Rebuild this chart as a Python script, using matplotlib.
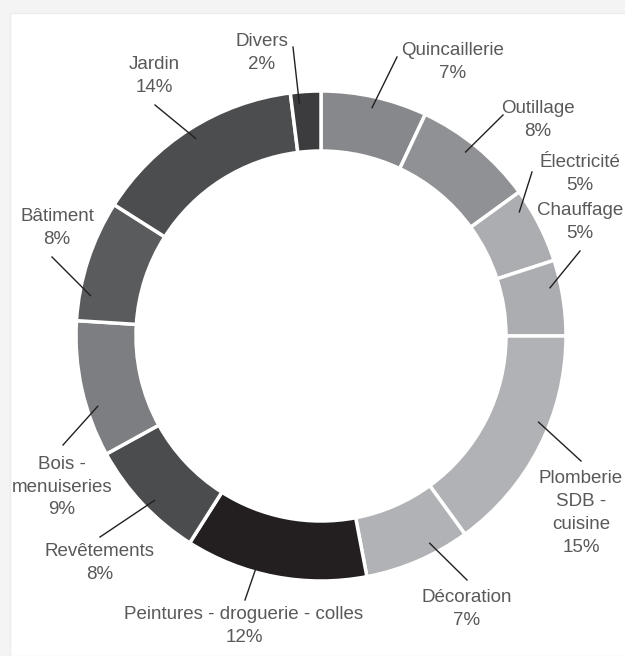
import numpy as np
import matplotlib
matplotlib.use("Agg")
import matplotlib.pyplot as plt
from matplotlib.patches import Rectangle

# Données (sens horaire depuis le haut)
categories = ["Quincaillerie", "Outillage", "Électricité", "Chauffage",
              "Plomberie\nSDB -\ncuisine", "Décoration",
              "Peintures - droguerie - colles", "Revêtements",
              "Bois -\nmenuiseries", "Bâtiment", "Jardin", "Divers"]
parts = [7, 8, 5, 5, 15, 7, 12, 8, 9, 8, 14, 2]
couleurs = ["#87888b", "#909194", "#acadb0", "#acadb0", "#b1b2b5", "#b1b2b5",
            "#231f20", "#4b4c4e", "#7d7e81", "#5a5b5d", "#4c4d4f", "#3c3c3e"]

# Mise en page (pixels depuis le haut-gauche)
W, H = 625, 656
cx, cy = 321, 336
R, largeur = 245, 60
pos_texte = [(453, 62), (538, 120), (580, 174), (580, 222), (581, 513),
             (467, 609), (244, 626), (100, 563), (62, 487), (57, 228),
             (154, 76), (262, 53)]
fin_trait = [(397, 57), (503, 115), (532, 172), (580, 251), (581, 461),
             (467, 580), (245, 600), (100, 537), (63, 445), (52, 257),
             (155, 105), (293, 47)]
frac_ancre = [0.5, 0.45, 0.22, 0.34, 0.4, 0.33, 0.61, 0.45, 0.35, 0.22, 0.5, 0.26]

fig = plt.figure(figsize=(W / 100, H / 100), dpi=100, facecolor="#f4f4f4")
ax = fig.add_axes([0, 0, 1, 1])
ax.set_facecolor("#f4f4f4")
ax.add_patch(Rectangle((10, 0), W, H - 13, facecolor="white", edgecolor="#ececec",
                       linewidth=1, zorder=0))

wedges, _ = ax.pie(parts, colors=couleurs, startangle=90, counterclock=False,
                   radius=R, center=(cx, H - cy),
                   wedgeprops=dict(width=largeur, edgecolor="white", linewidth=2.5))

police = ["Liberation Sans", "DejaVu Sans"]
for w, lab, p, (tx, ty), (ex, ey), f in zip(wedges, categories, parts, pos_texte, fin_trait, frac_ancre):
    # theta1 < theta2 ; sens horaire => on part de theta2
    ang = np.deg2rad(w.theta2 - f * (w.theta2 - w.theta1))
    r = R - 11
    ax_x = cx + r * np.cos(ang)
    ax_y = (H - cy) + r * np.sin(ang)
    ax.plot([ax_x, ex], [ax_y, H - ey], color="#231f20", linewidth=1, zorder=3)
    ax.text(tx, H - ty, f"{lab}\n{p}%", ha="center", va="center", fontsize=13.5,
            color="#58595b", family=police, linespacing=1.45, zorder=4)

ax.set_xlim(0, W)
ax.set_ylim(0, H)
ax.set_aspect("equal")
ax.axis("off")
fig.savefig("out.png", dpi=100, facecolor=fig.get_facecolor())
